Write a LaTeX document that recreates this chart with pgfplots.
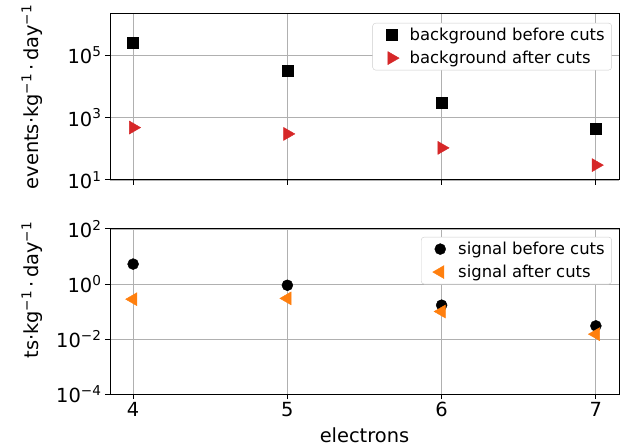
\documentclass[border=0pt]{standalone}
\usepackage{fontspec}
\setmainfont{DejaVu Sans}
\usepackage{pgfplots}
\pgfplotsset{compat=1.18}
\definecolor{tabred}{HTML}{D62728}
\definecolor{taborange}{HTML}{FF7F0E}
\definecolor{gridgray}{HTML}{B0B0B0}

\pgfplotsset{
  mypanel/.style={
    scale only axis,
    width=509bp,
    xmin=3.85, xmax=7.15,
    xtick={4,5,6,7},
    grid=major,
    major grid style={gridgray, line width=0.8bp},
    axis line style={line width=1bp},
    tick style={black, line width=1bp},
    tick align=outside,
    major tick length=5bp,
    xtick pos=bottom, ytick pos=left,
    minor tick num=0,
    ticklabel style={font=\fontsize{19.5}{22}\selectfont},
    label style={font=\fontsize{19.5}{22}\selectfont},
    legend cell align=left,
    legend image code/.code={%
      \path[draw=none] (0bp,0bp) (30bp,0bp);
      \draw[##1, only marks] plot coordinates {(14bp,0bp)};},
    legend style={font=\fontsize{16.5}{19}\selectfont, draw=black!20, rounded corners=3bp,
      fill=white, anchor=north east,
      row sep=5bp, inner xsep=5bp, inner ysep=3bp},
  },
}

\begin{document}
\begin{tikzpicture}
\useasboundingbox (0,0) rectangle (621bp,447bp);

\begin{semilogyaxis}[mypanel,
  at={(110bp,267bp)}, anchor=south west,
  height=166bp,
  ymin=10, ymax=2.1e6,
  ytick={10,1000,100000},
  yticklabels={10\textsuperscript{1},10\textsuperscript{3},10\textsuperscript{5}},
  xticklabels={},
  ylabel={events·kg\textsuperscript{−1}\,·\,day\textsuperscript{−1}},
  ylabel style={at={(rel axis cs:-0.153,0.5)}, anchor=center},
  legend style={at={(0.986,0.946)}},
]
\addplot[only marks, mark=square*, mark size=5.5bp, mark options={black}]
  coordinates {(4,2.6e5) (5,3.3e4) (6,3.0e3) (7,450)};
\addlegendentry{background before cuts}
\addplot[only marks, mark=triangle*, mark size=7.5bp, mark options={tabred, rotate=-90}]
  coordinates {(4,480) (5,300) (6,107) (7,30)};
\addlegendentry{background after cuts}
\end{semilogyaxis}

\begin{semilogyaxis}[mypanel,
  at={(110bp,53bp)}, anchor=south west,
  height=165bp,
  ymin=1e-4, ymax=1e2,
  ytick={1e-4,1e-2,1,100},
  yticklabels={10\textsuperscript{−4},10\textsuperscript{−2},10\textsuperscript{0},10\textsuperscript{2}},
  xticklabels={4,5,6,7},
  xlabel={electrons},
  xlabel style={yshift=-4bp},
  ylabel={ts·kg\textsuperscript{−1}\,·\,day\textsuperscript{−1}},
  ylabel style={at={(rel axis cs:-0.153,0.63)}, anchor=center},
  legend style={at={(0.986,0.952)}},
]
\addplot[only marks, mark=*, mark size=5.5bp, mark options={black}]
  coordinates {(4,5.3) (5,0.9) (6,0.17) (7,0.03)};
\addlegendentry{signal before cuts}
\addplot[only marks, mark=triangle*, mark size=7.5bp, mark options={taborange, rotate=90}]
  coordinates {(4,0.28) (5,0.3) (6,0.1) (7,0.015)};
\addlegendentry{signal after cuts}
\end{semilogyaxis}
\end{tikzpicture}
\end{document}
